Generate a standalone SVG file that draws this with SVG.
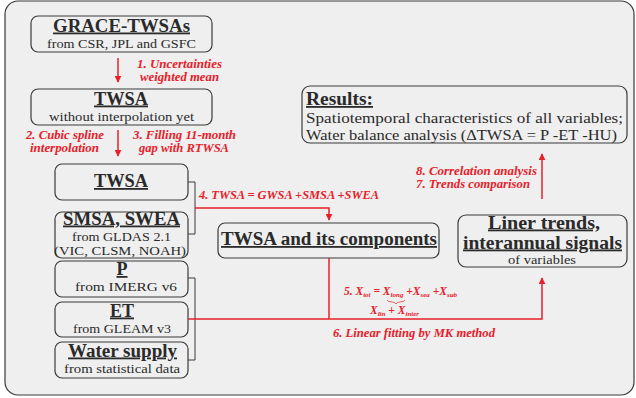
<svg xmlns="http://www.w3.org/2000/svg" width="636" height="398" viewBox="0 0 636 398">
<defs>
<style>
.box{fill:#efefef;stroke:#3a3a3a;stroke-width:1.2}
.t{font-family:"Liberation Serif","Times New Roman",serif;font-weight:bold;font-size:18px;fill:#2a2a2a;text-anchor:middle;text-decoration:underline}
.s{font-family:"Liberation Serif","Times New Roman",serif;font-size:13.5px;fill:#2a2a2a;text-anchor:middle}
.r{font-family:"Liberation Serif","Times New Roman",serif;font-weight:bold;font-style:italic;font-size:11.5px;fill:#e8202a}
.rl{fill:none;stroke:#e8202a;stroke-width:1.5}
.gl{fill:none;stroke:#3a3a3a;stroke-width:1}
</style>
<marker id="ah" viewBox="0 0 10 10" refX="9" refY="5" markerWidth="7" markerHeight="7" markerUnits="userSpaceOnUse" orient="auto"><path d="M0,0 L10,5 L0,10 z" fill="#e8202a"/></marker>
</defs>
<rect x="0" y="0" width="636" height="398" fill="#ffffff"/>
<rect x="5" y="1" width="629" height="394" rx="13" fill="#efefef" stroke="#3a3a3a" stroke-width="1.2"/>

<g id="grace">
<rect class="box" x="31" y="16" width="181" height="36" rx="7"/>
<text class="t" x="121.5" y="31.5" textLength="137" lengthAdjust="spacingAndGlyphs">GRACE-TWSAs</text>
<text class="s" x="121.5" y="47.5" textLength="149" lengthAdjust="spacingAndGlyphs">from CSR, JPL and GSFC</text>
</g>
<g id="twsa1">
<rect class="box" x="31" y="89" width="181" height="36" rx="7"/>
<text class="t" x="121" y="104.5" textLength="54" lengthAdjust="spacingAndGlyphs">TWSA</text>
<text class="s" x="121.5" y="120.5" textLength="145" lengthAdjust="spacingAndGlyphs">without interpolation yet</text>
</g>
<g id="twsa2">
<rect class="box" x="55" y="164" width="133" height="36" rx="7"/>
<text class="t" x="121" y="187" textLength="54" lengthAdjust="spacingAndGlyphs">TWSA</text>
</g>
<g id="smsa">
<rect class="box" x="55" y="212" width="133" height="46" rx="7"/>
<text class="t" x="121.5" y="224.5" textLength="117" lengthAdjust="spacingAndGlyphs">SMSA, SWEA</text>
<text class="s" x="121.5" y="240.5" textLength="99" lengthAdjust="spacingAndGlyphs">from GLDAS 2.1</text>
<text class="s" x="120" y="255" textLength="132" lengthAdjust="spacingAndGlyphs">(VIC, CLSM, NOAH)</text>
</g>
<g id="p">
<rect class="box" x="55" y="261" width="133" height="36" rx="7"/>
<text class="t" x="122" y="275">P</text>
<text class="s" x="126" y="291" textLength="102" lengthAdjust="spacingAndGlyphs">from IMERG v6</text>
</g>
<g id="et">
<rect class="box" x="55" y="302" width="133" height="35" rx="7"/>
<text class="t" x="122" y="316.5" textLength="24" lengthAdjust="spacingAndGlyphs">ET</text>
<text class="s" x="122" y="332.5" textLength="98" lengthAdjust="spacingAndGlyphs">from GLEAM v3</text>
</g>
<g id="water">
<rect class="box" x="55" y="342" width="133" height="36" rx="7"/>
<text class="t" x="122.5" y="356.5" textLength="109" lengthAdjust="spacingAndGlyphs">Water supply</text>
<text class="s" x="122" y="372.5" textLength="116" lengthAdjust="spacingAndGlyphs">from statistical data</text>
</g>
<g id="components">
<rect class="box" x="218" y="223" width="221" height="35" rx="7"/>
<text class="t" x="329" y="245" textLength="216" lengthAdjust="spacingAndGlyphs">TWSA and its components</text>
</g>
<g id="trends">
<rect class="box" x="458" y="215" width="169" height="52" rx="8"/>
<text class="t" x="544" y="228.5" textLength="112" lengthAdjust="spacingAndGlyphs">Liner trends,</text>
<text class="t" x="542.5" y="248.5" textLength="159" lengthAdjust="spacingAndGlyphs">interannual signals</text>
<text class="s" x="542" y="264" textLength="68" lengthAdjust="spacingAndGlyphs">of variables</text>
</g>
<g id="results">
<rect class="box" x="302" y="86" width="325" height="57" rx="8"/>
<text class="t" x="306" y="105" style="text-anchor:start" textLength="67" lengthAdjust="spacingAndGlyphs">Results:</text>
<text class="s" x="306" y="123" style="text-anchor:start;font-size:15px" textLength="317" lengthAdjust="spacingAndGlyphs">Spatiotemporal characteristics of all variables;</text>
<text class="s" x="306" y="140" style="text-anchor:start;font-size:15px" textLength="311" lengthAdjust="spacingAndGlyphs">Water balance analysis (ΔTWSA = P -ET -HU)</text>
</g>

<g id="connectors">
<line class="rl" x1="118" y1="58" x2="118" y2="82" marker-end="url(#ah)"/>
<line class="rl" x1="118" y1="130" x2="118" y2="156" marker-end="url(#ah)"/>
<polyline class="gl" points="188,182 195,182 195,234 188,234"/>
<polyline class="rl" points="195,208 329,208 329,220" marker-end="url(#ah)"/>
<polyline class="gl" points="188,278 195,278 195,360 188,360"/>
<polyline class="rl" points="188,319 542,319 542,278" marker-end="url(#ah)"/>
<line class="rl" x1="329" y1="258" x2="329" y2="319"/>
<line class="rl" x1="542" y1="199" x2="542" y2="154" marker-end="url(#ah)"/>
</g>

<g id="labels">
<text class="r" x="137" y="68" textLength="85" lengthAdjust="spacingAndGlyphs">1. Uncertainties</text>
<text class="r" x="140" y="81" textLength="79" lengthAdjust="spacingAndGlyphs">weighted mean</text>
<text class="r" x="26" y="139" textLength="78" lengthAdjust="spacingAndGlyphs">2. Cubic spline</text>
<text class="r" x="30" y="152" textLength="69" lengthAdjust="spacingAndGlyphs">interpolation</text>
<text class="r" x="133" y="139" textLength="103" lengthAdjust="spacingAndGlyphs">3. Filling 11-month</text>
<text class="r" x="139" y="152" textLength="90" lengthAdjust="spacingAndGlyphs">gap with RTWSA</text>
<text class="r" x="199" y="199" textLength="180" lengthAdjust="spacingAndGlyphs">4. TWSA = GWSA +SMSA +SWEA</text>
<text class="r" x="416" y="175" textLength="121" lengthAdjust="spacingAndGlyphs">8. Correlation analysis</text>
<text class="r" x="416" y="188" textLength="114" lengthAdjust="spacingAndGlyphs">7. Trends comparison</text>
<text class="r" x="344" y="295" font-size="12">5. X<tspan font-size="7" dy="2">tot</tspan><tspan dy="-2"> = X</tspan><tspan font-size="7" dy="2">long</tspan><tspan dy="-2"> +X</tspan><tspan font-size="7" dy="2">sea</tspan><tspan dy="-2"> +X</tspan><tspan font-size="7" dy="2">sub</tspan></text>
<path d="M387,300 q1,2 5,2 q3,0 4,2 q1,-2 4,-2 q4,0 5,-2" fill="none" stroke="#e8202a" stroke-width="0.7"/>
<text class="r" x="370" y="314" font-size="12">X<tspan font-size="7" dy="2">lin</tspan><tspan dy="-2"> + X</tspan><tspan font-size="7" dy="2">inter</tspan></text>
<text class="r" x="333" y="337" textLength="162" lengthAdjust="spacingAndGlyphs">6. Linear fitting by MK method</text>
</g>
</svg>
